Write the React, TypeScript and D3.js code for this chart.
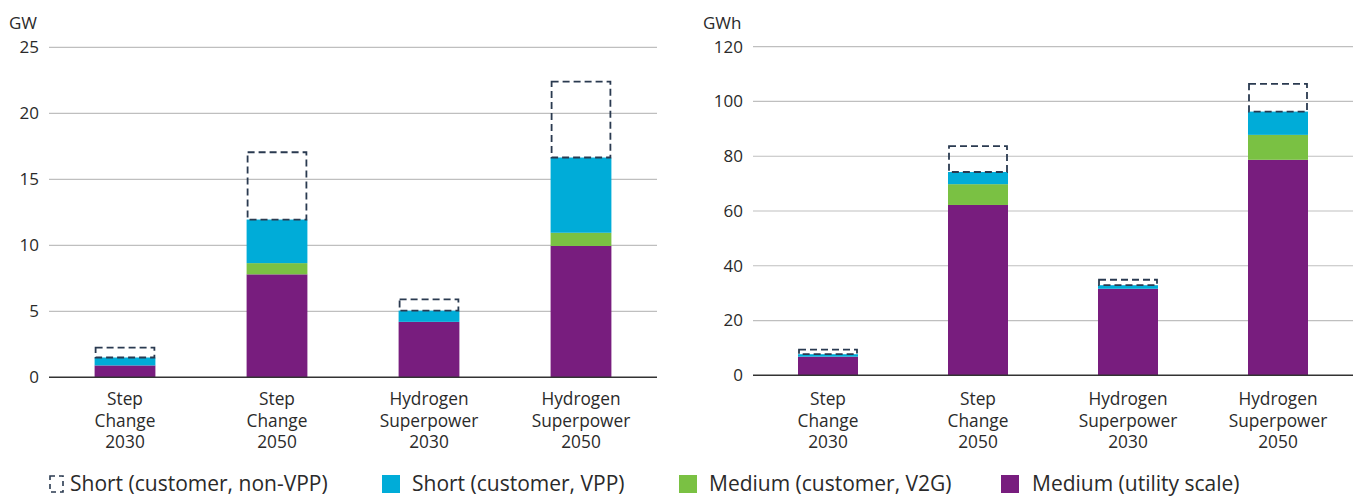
import React from "react";
import * as d3 from "d3";

const categories: string[][] = [
  ["Step", "Change", "2030"],
  ["Step", "Change", "2050"],
  ["Hydrogen", "Superpower", "2030"],
  ["Hydrogen", "Superpower", "2050"],
];

// GW chart
const gwUtility = [0.9, 7.8, 4.2, 9.95];
const gwV2G = [0, 0.85, 0, 1.0];
const gwVPP = [0.6, 3.3, 0.85, 5.7];
const gwNonVPP = [0.75, 5.1, 0.85, 5.75];
const gwTicks = [0, 5, 10, 15, 20, 25];

// GWh chart
const gwhUtility = [6.8, 62.2, 31.6, 78.7];
const gwhV2G = [0, 7.6, 0, 9.1];
const gwhVPP = [0.9, 4.45, 1.3, 8.5];
const gwhNonVPP = [1.7, 9.45, 2.0, 10.1];
const gwhTicks = [0, 20, 40, 60, 80, 100, 120];

const legendLabels = [
  "Short (customer, non-VPP)",
  "Short (customer, VPP)",
  "Medium (customer, V2G)",
  "Medium (utility scale)",
];

const COLORS = {
  utility: "#781d7e",
  v2g: "#7ac143",
  vpp: "#00acd8",
  dash: "#2a3a50",
  grid: "#bfbfbf",
  axis: "#333333",
  text: "#2a2a2a",
};

const FONT = "'Open Sans', 'Noto Sans', sans-serif";

type PanelProps = {
  unit: string;
  unitX: number;
  tickX: number;
  x0: number;
  x1: number;
  yTop: number;
  yBottom: number;
  max: number;
  ticks: number[];
  utility: number[];
  v2g: number[];
  vpp: number[];
  nonvpp: number[];
};

function Panel(p: PanelProps) {
  const idx = categories.map((_, i) => String(i));
  const x = d3.scaleBand<string>().domain(idx).range([p.x0, p.x1]).paddingInner(0.6).paddingOuter(0.3);
  const y = d3.scaleLinear().domain([0, p.max]).range([p.yBottom, p.yTop]);
  const bw = x.bandwidth();

  const series = [
    { key: "utility", vals: p.utility, color: COLORS.utility },
    { key: "v2g", vals: p.v2g, color: COLORS.v2g },
    { key: "vpp", vals: p.vpp, color: COLORS.vpp },
  ];

  return (
    <g>
      <text x={p.unitX} y={23} dy="0.35em" fontSize={17} fill={COLORS.text} fontFamily={FONT}>
        {p.unit}
      </text>
      {p.ticks.map((t) => (
        <g key={t}>
          {t !== 0 && (
            <line x1={p.x0} x2={p.x1} y1={y(t)} y2={y(t)} stroke={COLORS.grid} strokeWidth={1.2} />
          )}
          <text
            x={p.tickX}
            y={y(t)}
            dy="0.35em"
            textAnchor="end"
            fontSize={17}
            fill={COLORS.text}
            fontFamily={FONT}
          >
            {t}
          </text>
        </g>
      ))}
      {idx.map((k, i) => {
        let base = 0;
        const rects = series.map((s) => {
          const v = s.vals[i];
          const r = (
            <rect
              key={s.key}
              x={x(k)!}
              width={bw}
              y={y(base + v)}
              height={y(base) - y(base + v)}
              fill={s.color}
            />
          );
          base += v;
          return v > 0 ? r : null;
        });
        const top = base + p.nonvpp[i];
        return (
          <g key={k}>
            {rects}
            <rect
              x={x(k)! + 1}
              width={bw - 2}
              y={y(top)}
              height={y(base) - y(top)}
              fill="none"
              stroke={COLORS.dash}
              strokeWidth={1.8}
              strokeDasharray="7,4"
            />
            {categories[i].map((line, j) => (
              <text
                key={j}
                x={x(k)! + bw / 2}
                y={399 + j * 21.5}
                dy="0.35em"
                textAnchor="middle"
                fontSize={17.3}
                fill={COLORS.text}
                fontFamily={FONT}
              >
                {line}
              </text>
            ))}
          </g>
        );
      })}
      <line x1={p.x0} x2={p.x1} y1={y(0)} y2={y(0)} stroke={COLORS.axis} strokeWidth={1.5} />
    </g>
  );
}

export default function App() {
  const legendY = 484;
  const legendItems = [
    { sx: 49, tx: 70, color: null as string | null },
    { sx: 382, tx: 412, color: COLORS.vpp },
    { sx: 679, tx: 709, color: COLORS.v2g },
    { sx: 1001, tx: 1032, color: COLORS.utility },
  ];
  return (
    <svg
      width={1362}
      height={496}
      style={{ position: "absolute", left: 0, top: 0, background: "#fff" }}
    >
      <rect width={1362} height={496} fill="#fff" />
      <Panel
        unit="GW"
        unitX={9}
        tickX={39}
        x0={49}
        x1={657}
        yTop={47.3}
        yBottom={377.3}
        max={25}
        ticks={gwTicks}
        utility={gwUtility}
        v2g={gwV2G}
        vpp={gwVPP}
        nonvpp={gwNonVPP}
      />
      <Panel
        unit="GWh"
        unitX={703}
        tickX={743}
        x0={753}
        x1={1353}
        yTop={46.7}
        yBottom={375.3}
        max={120}
        ticks={gwhTicks}
        utility={gwhUtility}
        v2g={gwhV2G}
        vpp={gwhVPP}
        nonvpp={gwhNonVPP}
      />
      {legendItems.map((it, i) => (
        <g key={i}>
          {it.color ? (
            <rect x={it.sx} y={legendY - 9} width={18} height={18} fill={it.color} />
          ) : (
            <rect
              x={it.sx + 1}
              y={legendY - 8}
              width={13}
              height={16}
              fill="none"
              stroke={COLORS.dash}
              strokeWidth={1.6}
              strokeDasharray="5,4"
            />
          )}
          <text x={it.tx} y={legendY} dy="0.35em" fontSize={21} fill={COLORS.text} fontFamily={FONT}>
            {legendLabels[i]}
          </text>
        </g>
      ))}
    </svg>
  );
}
